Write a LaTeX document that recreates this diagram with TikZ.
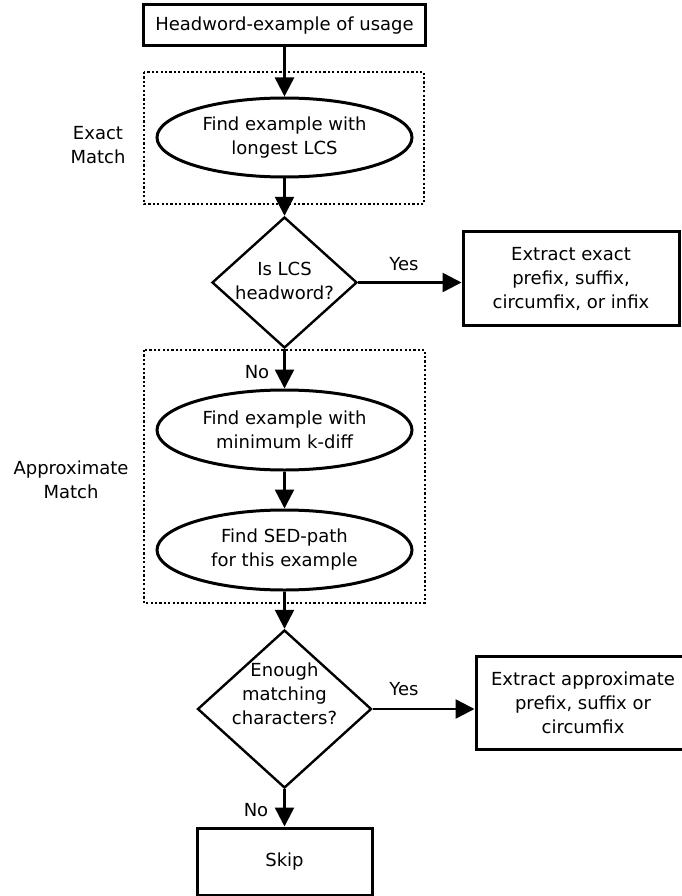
\documentclass[tikz,border=0pt]{standalone}
\usepackage{fontspec}
\setmainfont{DejaVu Sans}
\usetikzlibrary{shapes.geometric,arrows.meta}
\begin{document}
\begin{tikzpicture}[x=1pt,y=-1pt,
  every node/.style={font=\fontsize{18}{24}\selectfont, align=center, inner sep=0pt},
  boxnode/.style={draw, line width=3pt, rectangle},
  ellnode/.style={draw, line width=3pt, ellipse, minimum width=255pt, minimum height=79pt},
  dianode/.style={draw, line width=2.4pt, diamond},
  groupbox/.style={line width=2.5pt, dash pattern=on 2.2pt off 2.2pt},
  conn/.style={line width=2.5pt, -{Triangle[length=19pt,width=19pt]}},
  lbl/.style={}
]
\useasboundingbox (0,0) rectangle (681,896);

% groups
\draw[groupbox] (144,72) rectangle (424,204);
\draw[groupbox] (144,350) rectangle (425,603);
\node[lbl] (exactlbl) at (98,145) {Exact\\Match};
\node[lbl] (approxlbl) at (71,480) {Approximate\\Match};

% nodes
\node[boxnode, minimum width=282pt, minimum height=41pt] (top) at (284.5,25.5) {Headword-example of usage};
\node[ellnode] (e1) at (284.5,137.5) {Find example with\\longest LCS};
\node[dianode, minimum width=145pt, minimum height=131pt] (d1) at (284.5,282.5) {};
\node (d1t) at (284.5,281) {Is LCS\\headword?};
\node[boxnode, minimum width=216pt, minimum height=94pt] (b1) at (571,278.5) {Extract exact\\prefix, suffix,\\circumfix, or infix};
\node[ellnode, minimum height=80pt] (e2) at (284.5,430) {Find example with\\minimum k-diff};
\node[ellnode, minimum height=80pt] (e3) at (284.5,550) {Find SED-path\\for this example};
\node[dianode, minimum width=174pt, minimum height=158pt] (d2) at (284.5,709) {};
\node (d2t) at (284.5,694) {Enough\\matching\\characters?};
\node[boxnode, minimum width=214pt, minimum height=93pt] (b2) at (583,702.5) {Extract approximate\\prefix, suffix or\\circumfix};
\node[boxnode, minimum width=175pt, minimum height=67pt] (skip) at (284.5,861.5) {Skip};

% labels
\node[lbl] (yes1) at (404,264) {Yes};
\node[lbl] (no1) at (257,372) {No};
\node[lbl] (yes2) at (404,689) {Yes};
\node[lbl] (no2) at (256,810) {No};

% connectors
\draw[conn] (top.south) -- (e1.north);
\draw[conn] (e1.south) -- (d1.north);
\draw[conn] (d1.south) -- (e2.north);
\draw[conn] (e2.south) -- (e3.north);
\draw[conn] (e3.south) -- (d2.north);
\draw[conn] (d2.south) -- (skip.north);
\draw[conn] (d1.east) -- (d1.east -| b1.west);
\draw[conn] (d2.east) -- (d2.east -| b2.west);
\end{tikzpicture}
\end{document}
